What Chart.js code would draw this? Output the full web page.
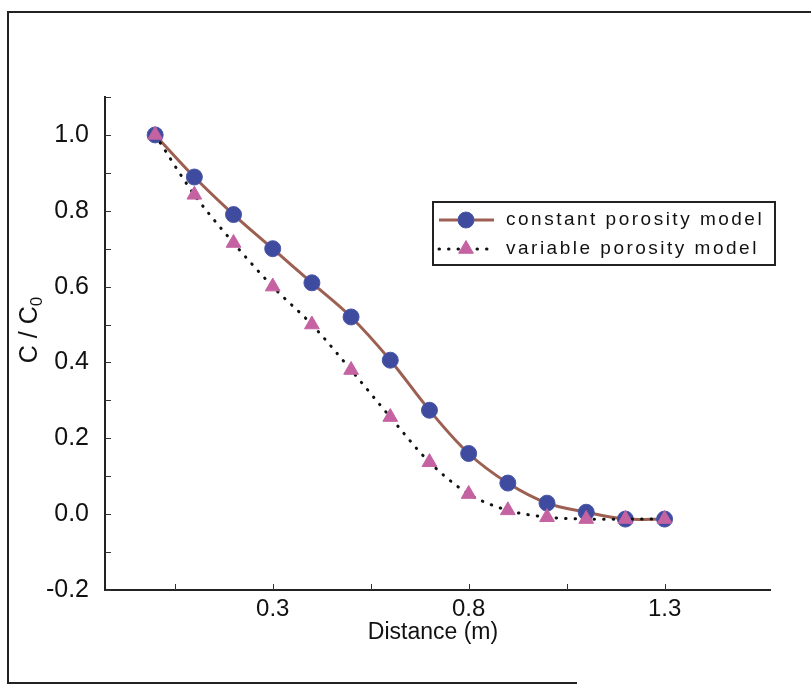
<!DOCTYPE html>
<html>
<head>
<meta charset="utf-8">
<script src="https://cdn.jsdelivr.net/npm/chart.js@4.4.0/dist/chart.umd.min.js"></script>
<style>
  html, body { margin: 0; padding: 0; background: #fff; }
  #wrap { width: 811px; height: 685px; position: relative; }
</style>
</head>
<body>
<div id="wrap"><canvas id="porosityChart" width="811" height="685"></canvas></div>
<script>
// dados
const distance = [0, 0.1, 0.2, 0.3, 0.4, 0.5, 0.6, 0.7, 0.8, 0.9, 1.0, 1.1, 1.2, 1.3];
const constantPorosity = [1.0, 0.889, 0.79, 0.70, 0.61, 0.52, 0.406, 0.274, 0.16, 0.082, 0.029, 0.005, -0.013, -0.013];
const variablePorosity = [1.0, 0.842, 0.715, 0.60, 0.50, 0.38, 0.256, 0.137, 0.053, 0.01, -0.008, -0.013, -0.013, -0.013];

const seriesNames = ['constant porosity model', 'variable porosity model'];

const xTicks = [0.05, 0.3, 0.55, 0.8, 1.05, 1.3];
const xLabels = ['0.3', '0.8', '1.3'];
const yTicks = [-0.2, -0.1, 0, 0.1, 0.2, 0.3, 0.4, 0.5, 0.6, 0.7, 0.8, 0.9, 1.0, 1.1];
const yLabels = ['-0.2', '0.0', '0.2', '0.4', '0.6', '0.8', '1.0'];

const FONT = "'Liberation Sans', Arial, sans-serif";

function toPoints(ys) {
    return distance.map((x, i) => ({ x: x, y: ys[i] }));
}

// moldura, marcas internas dos eixos e títulos
const extras = {
    id: 'extras',
    beforeDraw(chart) {
        const ctx = chart.ctx;
        ctx.save();
        ctx.fillStyle = '#fff';
        ctx.fillRect(0, 0, chart.width, chart.height);
        ctx.strokeStyle = '#222';
        ctx.lineWidth = 2;
        ctx.beginPath();
        ctx.moveTo(811, 12); ctx.lineTo(8, 12); ctx.lineTo(8, 683); ctx.lineTo(577, 683);
        ctx.stroke();
        ctx.restore();
    },
    afterDraw(chart) {
        const ctx = chart.ctx;
        const area = chart.chartArea;
        const xs = chart.scales.x, ys = chart.scales.y;
        ctx.save();
        ctx.strokeStyle = '#333';
        ctx.lineWidth = 1;
        ctx.beginPath();
        xTicks.forEach(v => {
            const px = Math.round(xs.getPixelForValue(v)) + 0.5;
            ctx.moveTo(px, area.bottom); ctx.lineTo(px, area.bottom - 6);
        });
        yTicks.forEach(v => {
            const py = Math.round(ys.getPixelForValue(v)) + 0.5;
            ctx.moveTo(area.left, py); ctx.lineTo(area.left + 6, py);
        });
        ctx.stroke();

        // título do eixo x
        ctx.fillStyle = '#111';
        ctx.font = '23px ' + FONT;
        ctx.textAlign = 'center';
        ctx.textBaseline = 'middle';
        ctx.fillText('Distance (m)', 433, 633);

        // título do eixo y: C / C0
        ctx.save();
        ctx.translate(37, 330);
        ctx.rotate(-Math.PI / 2);
        ctx.textAlign = 'left';
        ctx.textBaseline = 'alphabetic';
        ctx.font = '25px ' + FONT;
        const main = 'C / C';
        const w = ctx.measureText(main).width;
        ctx.font = '17px ' + FONT;
        const ws = ctx.measureText('0').width;
        const start = -(w + ws) / 2;
        ctx.font = '25px ' + FONT;
        ctx.fillText(main, start, 0);
        ctx.font = '17px ' + FONT;
        ctx.fillText('0', start + w, 5);
        ctx.restore();
        ctx.restore();
    }
};

// legenda desenhada dentro da área do gráfico
const legendBox = {
    id: 'legendBox',
    afterDraw(chart) {
        const ctx = chart.ctx;
        const bx = 433, by = 202, bw = 342, bh = 63;
        ctx.save();
        ctx.fillStyle = '#fff';
        ctx.fillRect(bx, by, bw, bh);
        ctx.strokeStyle = '#222';
        ctx.lineWidth = 2;
        ctx.strokeRect(bx, by, bw, bh);
        const rows = [by + 18, by + 47];
        chart.data.datasets.forEach((ds, i) => {
            const y = rows[i];
            ctx.save();
            ctx.strokeStyle = ds.borderColor;
            ctx.lineWidth = ds.borderWidth;
            ctx.lineCap = ds.borderCapStyle || 'butt';
            ctx.setLineDash(ds.borderDash || []);
            ctx.beginPath();
            ctx.moveTo(439, y); ctx.lineTo(494, y);
            ctx.stroke();
            ctx.restore();

            ctx.save();
            ctx.fillStyle = ds.pointBackgroundColor;
            ctx.strokeStyle = ds.pointBorderColor;
            ctx.lineWidth = 1;
            Chart.helpers.drawPoint(ctx, {
                pointStyle: ds.pointStyle, radius: ds.pointRadius, borderWidth: 1, rotation: 0
            }, 466, y);
            ctx.fillStyle = '#111';
            ctx.font = '19px ' + FONT;
            ctx.letterSpacing = '2.5px';
            ctx.textAlign = 'left';
            ctx.textBaseline = 'middle';
            ctx.fillText(seriesNames[i], 506, y);
            ctx.restore();
        });
        ctx.restore();
    }
};

const ctx = document.getElementById('porosityChart').getContext('2d');
const chart = new Chart(ctx, {
    type: 'line',
    data: {
        datasets: [
            {
                label: seriesNames[0],
                data: toPoints(constantPorosity),
                borderColor: '#9c5f52',
                borderWidth: 3,
                tension: 0.35,
                pointStyle: 'circle',
                pointRadius: 8,
                pointBackgroundColor: '#3f4b9e',
                pointBorderColor: '#4a57a8',
                pointBorderWidth: 1,
                order: 2
            },
            {
                label: seriesNames[1],
                data: toPoints(variablePorosity),
                borderColor: '#111',
                borderWidth: 3,
                borderDash: [0.5, 9],
                borderCapStyle: 'round',
                tension: 0.3,
                pointStyle: 'triangle',
                pointRadius: 8.5,
                pointBackgroundColor: '#c462a2',
                pointBorderColor: '#c462a2',
                pointBorderWidth: 1,
                order: 1
            }
        ]
    },
    options: {
        responsive: false,
        animation: false,
        events: [],
        layout: { padding: { top: 97, right: 41, left: 0, bottom: 0 } },
        plugins: {
            legend: { display: false },
            tooltip: { enabled: false }
        },
        scales: {
            x: {
                type: 'linear',
                min: -0.128,
                max: 1.569,
                afterBuildTicks: s => { s.ticks = xTicks.map(v => ({ value: v })); },
                afterFit: s => { s.height = 95; },
                grid: { display: false, drawTicks: false },
                border: { display: true, color: '#222', width: 2 },
                ticks: {
                    autoSkip: false,
                    maxRotation: 0,
                    padding: 5,
                    color: '#111',
                    font: { family: FONT, size: 24 },
                    callback: v => xLabels.includes(Number(v).toFixed(1)) ? Number(v).toFixed(1) : ''
                }
            },
            y: {
                min: -0.2,
                max: 1.1,
                afterBuildTicks: s => { s.ticks = yTicks.map(v => ({ value: v })); },
                afterFit: s => { s.width = 105; },
                grid: { display: false, drawTicks: false },
                border: { display: true, color: '#222', width: 2 },
                ticks: {
                    autoSkip: false,
                    padding: 16,
                    color: '#111',
                    font: { family: FONT, size: 25 },
                    callback: v => yLabels.includes(Number(v).toFixed(1)) ? Number(v).toFixed(1) : ''
                }
            }
        }
    },
    plugins: [extras, legendBox]
});
</script>
</body>
</html>
